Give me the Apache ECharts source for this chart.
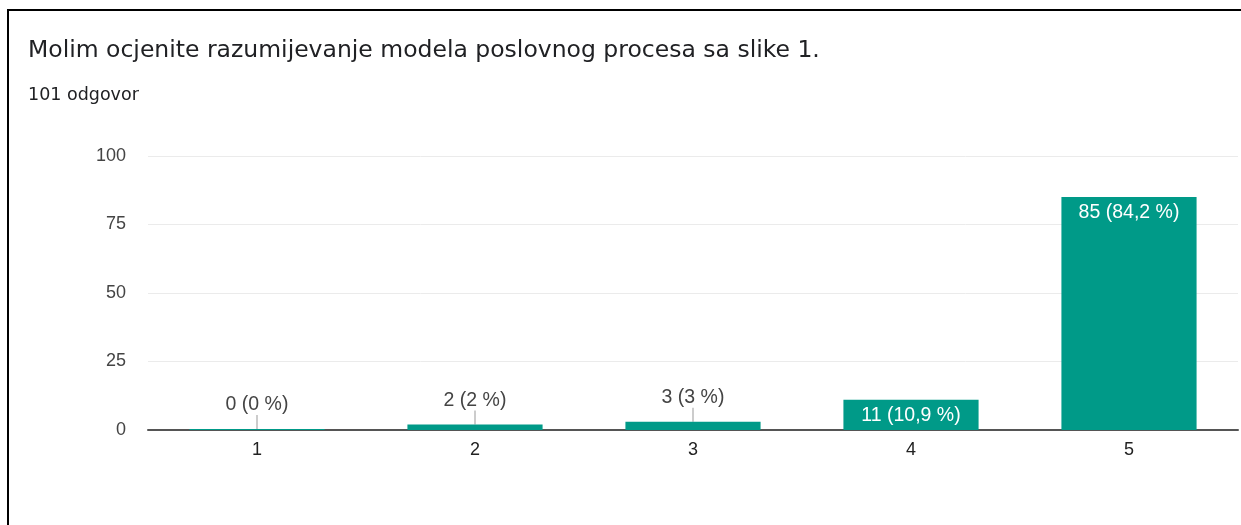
<!DOCTYPE html>
<html>
<head>
<meta charset="utf-8">
<script src="https://cdn.jsdelivr.net/npm/echarts@6/dist/echarts.min.js"></script>
<style>
  html, body { margin: 0; padding: 0; background: #fff; }
  #frame {
    position: absolute;
    left: 7px;
    top: 9px;
    width: 1234px;
    height: 516px;
    border-left: 2px solid #000;
    border-top: 2px solid #000;
  }
  #chart { position: absolute; left: 0; top: 0; width: 1241px; height: 525px; }
</style>
</head>
<body>
<div id="frame"></div>
<div id="chart"></div>
<script>
  var categories = ['1', '2', '3', '4', '5'];
  var counts = [0, 2, 3, 11, 85];
  var percents = ['0 %', '2 %', '3 %', '10,9 %', '84,2 %'];
  var yTicks = [0, 25, 50, 75, 100];

  var barColor = '#009a88';

  // small bars get the label above with a little leader line, big ones inside
  var seriesData = counts.map(function (v, i) {
    var item = { value: v };
    if (v < 10) {
      item.label = {
        show: true,
        position: 'top',
        distance: 4,
        color: '#444',
        formatter: v + ' (' + percents[i] + ')'
      };
      item.labelLine = { show: true, lineStyle: { color: '#999', width: 1 } };
    } else {
      item.label = {
        show: true,
        position: 'insideTop',
        distance: 6,
        color: '#fff',
        formatter: v + ' (' + percents[i] + ')'
      };
    }
    return item;
  });

  var chart = echarts.init(document.getElementById('chart'));
  chart.setOption({
    animation: false,
    title: [
      {
        text: 'Molim ocjenite razumijevanje modela poslovnog procesa sa slike 1.',
        left: 23,
        top: 34,
        textStyle: { fontFamily: 'DejaVu Sans', fontSize: 23.5, fontWeight: 'normal', color: '#202124' }
      },
      {
        text: '101 odgovor',
        left: 23,
        top: 81,
        textStyle: { fontFamily: 'DejaVu Sans', fontSize: 17.5, fontWeight: 'normal', color: '#202124' }
      }
    ],
    grid: { left: 148, right: 3, top: 156, bottom: 95 },
    xAxis: {
      type: 'category',
      data: categories,
      axisLine: { lineStyle: { color: '#555', width: 2 } },
      axisTick: { show: false },
      axisLabel: { color: '#222', fontSize: 18, fontFamily: 'Liberation Sans', margin: 11 }
    },
    yAxis: {
      type: 'value',
      min: yTicks[0],
      max: yTicks[yTicks.length - 1],
      interval: 25,
      axisLine: { show: false },
      axisTick: { show: false },
      splitLine: { lineStyle: { color: '#ebebeb' } },
      axisLabel: { color: '#444', fontSize: 18, fontFamily: 'Liberation Sans', margin: 22 }
    },
    series: [
      {
        type: 'bar',
        data: seriesData,
        barWidth: '62%',
        barMinHeight: 1,
        itemStyle: { color: barColor },
        label: { fontSize: 19.5, fontFamily: 'Liberation Sans' },
        labelLayout: function (params) {
          if (counts[params.dataIndex] < 10) {
            return { dy: -10 };
          }
          return {};
        }
      }
    ]
  });
</script>
</body>
</html>
